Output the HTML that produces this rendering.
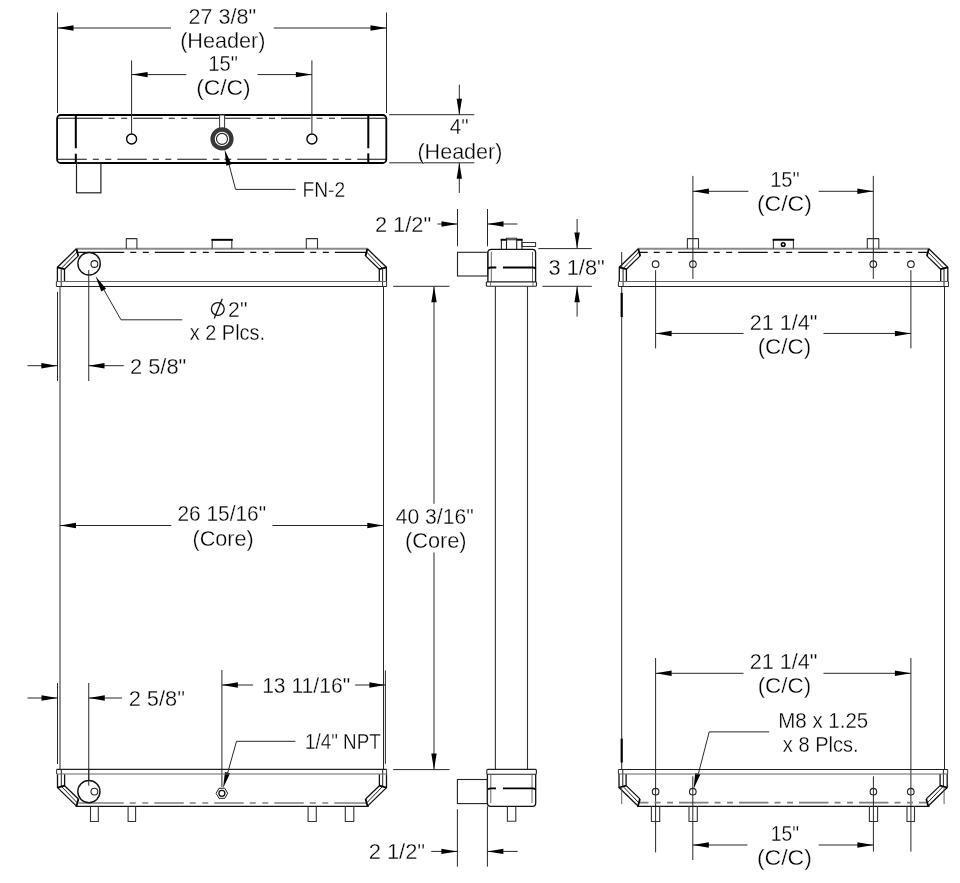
<!DOCTYPE html>
<html><head><meta charset="utf-8"><style>
html,body{margin:0;padding:0;background:#fff;width:960px;height:883px;overflow:hidden}
svg{display:block}
text{font-family:"Liberation Sans",sans-serif;will-change:transform}
</style></head><body>
<svg width="960" height="883" viewBox="0 0 960 883">
<rect x="57.1" y="115" width="329.2" height="48" rx="3.5" fill="none" stroke="#000" stroke-width="1.8"/>
<path d="M75.8 115L75.8 148.3" stroke="#000" stroke-width="2"/>
<path d="M75.8 153.7L75.8 163" stroke="#000" stroke-width="2"/>
<path d="M368.3 115L368.3 148.3" stroke="#000" stroke-width="2"/>
<path d="M368.3 153.3L368.3 163" stroke="#000" stroke-width="2"/>
<path d="M57.7 118.25H102.7M108.7 118.25H114.7M121.2 118.25H127.2M133.2 118.25H162.7M168.7 118.25H174.7M181.2 118.25H187.2M193.2 118.25H219.5M224.5 118.25H250.5M256.5 118.25H262.5M269 118.25H275M281 118.25H310.5M316.5 118.25H322.5M329 118.25H335M341 118.25H386" stroke="#111" stroke-width="1.2" fill="none"/>
<path d="M57.7 159.25H86.8M92.8 159.25H98.8M105.3 159.25H111.3M117.3 159.25H146.8M152.8 159.25H158.8M165.3 159.25H171.3M177.3 159.25H206.8M212.8 159.25H219.5M224.5 159.25H231.25M237.25 159.25H266.75M272.75 159.25H278.75M285.25 159.25H291.25M297.25 159.25H326.75M332.75 159.25H338.75M345.25 159.25H351.25M357.25 159.25H386" stroke="#111" stroke-width="1.2" fill="none"/>
<circle cx="131.6" cy="139" r="5" fill="#fff" stroke="#000" stroke-width="1.4"/>
<circle cx="311.9" cy="139" r="5" fill="#fff" stroke="#000" stroke-width="1.4"/>
<rect x="219.6" y="115" width="5" height="13.5" rx="0" fill="#fff" stroke="#333" stroke-width="1"/>
<circle cx="222" cy="138.9" r="9.4" fill="#fff" stroke="#383838" stroke-width="4.4"/>
<circle cx="222" cy="138.9" r="5.5" fill="none" stroke="#222" stroke-width="1.1"/>
<rect x="76.5" y="163" width="24.4" height="29.8" rx="0" fill="none" stroke="#222" stroke-width="1.2"/>
<path d="M226.5 155L235.6 189.4" stroke="#282828" stroke-width="1.0"/>
<path d="M235.6 189.4L295.6 189.4" stroke="#282828" stroke-width="1.0"/>
<path d="M224.6 149.6L231.46 164.3L226.26 165.74Z" fill="#000"/>
<text x="302.45" y="196.9" font-size="21.2" textLength="42.7" lengthAdjust="spacingAndGlyphs" fill="#000" stroke="#fff" stroke-width="0.3">FN-2</text>
<path d="M57.5 12.5L57.5 113" stroke="#282828" stroke-width="1.0"/>
<path d="M386.5 12.5L386.5 113" stroke="#282828" stroke-width="1.0"/>
<path d="M57.5 28L171 28" stroke="#282828" stroke-width="1.0"/>
<path d="M57.5 28L73.5 25.3L73.5 30.7Z" fill="#000"/>
<path d="M386.5 28L273.75 28" stroke="#282828" stroke-width="1.0"/>
<path d="M386.5 28L370.5 30.7L370.5 25.3Z" fill="#000"/>
<text x="188.45" y="24" font-size="21.2" textLength="67.7" lengthAdjust="spacingAndGlyphs" fill="#000" stroke="#fff" stroke-width="0.3">27 3/8&quot;</text>
<text x="180.15" y="47.5" font-size="21.2" textLength="85.4" lengthAdjust="spacingAndGlyphs" fill="#000" stroke="#fff" stroke-width="0.3">(Header)</text>
<path d="M131.6 60.4L131.6 134" stroke="#282828" stroke-width="1.0"/>
<path d="M311.9 60.4L311.9 134" stroke="#282828" stroke-width="1.0"/>
<path d="M131.6 74.6L186.25 74.6" stroke="#282828" stroke-width="1.0"/>
<path d="M131.6 74.6L147.6 71.9L147.6 77.3Z" fill="#000"/>
<path d="M311.9 74.6L257.5 74.6" stroke="#282828" stroke-width="1.0"/>
<path d="M311.9 74.6L295.9 77.3L295.9 71.9Z" fill="#000"/>
<text x="208.25" y="70.8" font-size="21.2" textLength="29.6" lengthAdjust="spacingAndGlyphs" fill="#000" stroke="#fff" stroke-width="0.3">15&quot;</text>
<text x="196.15" y="94.5" font-size="21.2" textLength="54.6" lengthAdjust="spacingAndGlyphs" fill="#000" stroke="#fff" stroke-width="0.3">(C/C)</text>
<path d="M389.2 114.7L474.3 114.7" stroke="#282828" stroke-width="1.0"/>
<path d="M389.2 162.8L474.3 162.8" stroke="#282828" stroke-width="1.0"/>
<path d="M459.3 114.7L459.3 84.6" stroke="#282828" stroke-width="1.0"/>
<path d="M459.3 114.7L456.6 98.7L462 98.7Z" fill="#000"/>
<path d="M459.3 162.8L459.3 192.9" stroke="#282828" stroke-width="1.0"/>
<path d="M459.3 162.8L462 178.8L456.6 178.8Z" fill="#000"/>
<text x="449.65" y="134.2" font-size="21.2" textLength="19" lengthAdjust="spacingAndGlyphs" fill="#000" stroke="#fff" stroke-width="0.3">4&quot;</text>
<text x="417.45" y="158.8" font-size="21.2" textLength="85" lengthAdjust="spacingAndGlyphs" fill="#000" stroke="#fff" stroke-width="0.3">(Header)</text>
<path d="M76.4 248.8L367.4 248.8" stroke="#8a8a8a" stroke-width="2"/>
<path d="M76.1 252.4H124.3M130.3 252.4H136.3M142.8 252.4H148.8M154.8 252.4H184.3M190.3 252.4H196.3M202.8 252.4H208.8M214.8 252.4H244.3M250.3 252.4H256.3M262.8 252.4H268.8M274.8 252.4H304.3M310.3 252.4H316.3M322.8 252.4H328.8M334.8 252.4H366.9" stroke="#111" stroke-width="1.2" fill="none"/>
<path d="M76.4 248.8L57.4 267.3L57.4 281.6" fill="none" stroke="#111" stroke-width="1.3" stroke-linejoin="round"/>
<path d="M76.9 252.3L61.2 268.6L61.2 286.3" fill="none" stroke="#222" stroke-width="1.0" stroke-linejoin="round"/>
<path d="M78.3 255.9L64.5 269.2L64.5 281.6" fill="none" stroke="#111" stroke-width="1.3" stroke-linejoin="round"/>
<path d="M76.4 248.8L78.3 255.9" stroke="#000" stroke-width="1.8"/>
<path d="M64.5 269.2L57.4 267.3" stroke="#000" stroke-width="1.8"/>
<path d="M367.4 248.8L386.4 267.3L386.4 281.6" fill="none" stroke="#111" stroke-width="1.3" stroke-linejoin="round"/>
<path d="M366.9 252.3L382.6 268.6L382.6 286.3" fill="none" stroke="#222" stroke-width="1.0" stroke-linejoin="round"/>
<path d="M365.5 255.9L379.3 269.2L379.3 281.6" fill="none" stroke="#111" stroke-width="1.3" stroke-linejoin="round"/>
<path d="M367.4 248.8L365.5 255.9" stroke="#000" stroke-width="1.8"/>
<path d="M379.3 269.2L386.4 267.3" stroke="#000" stroke-width="1.8"/>
<path d="M56.4 281.5L386.6 281.5" stroke="#666" stroke-width="1.1"/>
<path d="M56.4 286.5L386.6 286.5" stroke="#222" stroke-width="1.1"/>
<path d="M56.4 281.5L56.4 286.5" stroke="#333" stroke-width="1"/>
<path d="M386.6 281.5L386.6 286.5" stroke="#333" stroke-width="1"/>
<path d="M126.3 248.8L126.3 238.6L136.9 238.6L136.9 248.8" fill="none" stroke="#333" stroke-width="1.1" stroke-linejoin="round"/>
<path d="M212.2 248.8L212.2 239.8L231.8 239.8L231.8 248.8" fill="none" stroke="#333" stroke-width="1.1" stroke-linejoin="round"/>
<path d="M211.4 239.8L232.8 239.8" stroke="#000" stroke-width="1.9"/>
<path d="M306.3 248.8L306.3 238.6L317.5 238.6L317.5 248.8" fill="none" stroke="#333" stroke-width="1.1" stroke-linejoin="round"/>
<circle cx="89.1" cy="263.75" r="11.2" fill="#fff" stroke="#111" stroke-width="1.4"/>
<circle cx="94.4" cy="264" r="3.4" fill="none" stroke="#222" stroke-width="1.1"/>
<path d="M88.75 270L88.75 381" stroke="#282828" stroke-width="1.0"/>
<path d="M60 286.3L60 769.5" stroke="#282828" stroke-width="1"/>
<path d="M383.5 286.3L383.5 769.5" stroke="#282828" stroke-width="1"/>
<path d="M57.5 291.9L57.5 381" stroke="#282828" stroke-width="1.0"/>
<path d="M100 283L121 319.8" stroke="#282828" stroke-width="1.0"/>
<path d="M121 319.8L182.3 319.8" stroke="#282828" stroke-width="1.0"/>
<path d="M95.6 276.3L106 288.76L101.34 291.48Z" fill="#000"/>
<circle cx="217.8" cy="309" r="6.4" fill="none" stroke="#111" stroke-width="1.3"/>
<path d="M222.3 298.8L214.2 318.4" stroke="#111" stroke-width="1.3"/>
<text x="228.05" y="316.5" font-size="21.2" textLength="19.4" lengthAdjust="spacingAndGlyphs" fill="#000" stroke="#fff" stroke-width="0.3">2&quot;</text>
<text x="189.65" y="340" font-size="21.2" textLength="75.5" lengthAdjust="spacingAndGlyphs" fill="#000" stroke="#fff" stroke-width="0.3">x 2 Plcs.</text>
<path d="M57.3 365.7L27.5 365.7" stroke="#282828" stroke-width="1.0"/>
<path d="M57.3 365.7L41.3 368.4L41.3 363Z" fill="#000"/>
<path d="M88.5 365.7L123.8 365.7" stroke="#282828" stroke-width="1.0"/>
<path d="M88.5 365.7L104.5 363L104.5 368.4Z" fill="#000"/>
<text x="129.95" y="373.7" font-size="21.2" textLength="56.4" lengthAdjust="spacingAndGlyphs" fill="#000" stroke="#fff" stroke-width="0.3">2 5/8&quot;</text>
<path d="M60 525.5L171.3 525.5" stroke="#282828" stroke-width="1.0"/>
<path d="M60 525.5L76 522.8L76 528.2Z" fill="#000"/>
<path d="M383.3 525.5L272.5 525.5" stroke="#282828" stroke-width="1.0"/>
<path d="M383.3 525.5L367.3 528.2L367.3 522.8Z" fill="#000"/>
<text x="177.45" y="521.3" font-size="21.2" textLength="88.7" lengthAdjust="spacingAndGlyphs" fill="#000" stroke="#fff" stroke-width="0.3">26 15/16&quot;</text>
<text x="192.45" y="545.8" font-size="21.2" textLength="61.2" lengthAdjust="spacingAndGlyphs" fill="#000" stroke="#fff" stroke-width="0.3">(Core)</text>
<path d="M393.2 286.3L449.4 286.3" stroke="#282828" stroke-width="1.0"/>
<path d="M393.2 769.6L449.6 769.6" stroke="#282828" stroke-width="1.0"/>
<path d="M434 286.3L434 503.8" stroke="#282828" stroke-width="1.0"/>
<path d="M434 286.3L436.7 302.3L431.3 302.3Z" fill="#000"/>
<path d="M434 769.6L434 552.5" stroke="#282828" stroke-width="1.0"/>
<path d="M434 769.6L431.3 753.6L436.7 753.6Z" fill="#000"/>
<text x="395.65" y="523.8" font-size="21.2" textLength="78" lengthAdjust="spacingAndGlyphs" fill="#000" stroke="#fff" stroke-width="0.3">40 3/16&quot;</text>
<text x="404.95" y="547.5" font-size="21.2" textLength="61.7" lengthAdjust="spacingAndGlyphs" fill="#000" stroke="#fff" stroke-width="0.3">(Core)</text>
<path d="M57.5 683L57.5 764" stroke="#282828" stroke-width="1.0"/>
<path d="M88.75 683L88.75 785.6" stroke="#282828" stroke-width="1.0"/>
<path d="M57.5 698L27.5 698" stroke="#282828" stroke-width="1.0"/>
<path d="M57.5 698L41.5 700.7L41.5 695.3Z" fill="#000"/>
<path d="M88.75 698L122 698" stroke="#282828" stroke-width="1.0"/>
<path d="M88.75 698L104.75 695.3L104.75 700.7Z" fill="#000"/>
<text x="128.65" y="705.8" font-size="21.2" textLength="56.3" lengthAdjust="spacingAndGlyphs" fill="#000" stroke="#fff" stroke-width="0.3">2 5/8&quot;</text>
<path d="M221.9 670L221.9 787" stroke="#282828" stroke-width="1.0"/>
<path d="M385.4 670.4L385.4 763.8" stroke="#282828" stroke-width="1.0"/>
<path d="M221.9 685L253.1 685" stroke="#282828" stroke-width="1.0"/>
<path d="M221.9 685L237.9 682.3L237.9 687.7Z" fill="#000"/>
<path d="M385.4 685L355.2 685" stroke="#282828" stroke-width="1.0"/>
<path d="M385.4 685L369.4 687.7L369.4 682.3Z" fill="#000"/>
<text x="262.15" y="692.9" font-size="21.2" textLength="88" lengthAdjust="spacingAndGlyphs" fill="#000" stroke="#fff" stroke-width="0.3">13 11/16&quot;</text>
<path d="M236.5 741.3L295.4 741.3" stroke="#282828" stroke-width="1.0"/>
<path d="M236.5 741.3L226.8 776" stroke="#282828" stroke-width="1.0"/>
<path d="M223.1 788L224.92 771.88L230.11 773.37Z" fill="#000"/>
<text x="304.95" y="749.2" font-size="21.2" textLength="75.8" lengthAdjust="spacingAndGlyphs" fill="#000" stroke="#fff" stroke-width="0.3">1/4&quot; NPT</text>
<path d="M75.6 806.45L368.8 806.45" stroke="#111" stroke-width="1.2"/>
<path d="M78.4 803H123.75M129.75 803H135.75M142.25 803H148.25M154.25 803H183.75M189.75 803H195.75M202.25 803H208.25M214.25 803H243.75M249.75 803H255.75M262.25 803H268.25M274.25 803H303.75M309.75 803H315.75M322.25 803H328.25M334.25 803H366" stroke="#808080" stroke-width="1.7" fill="none"/>
<path d="M76.5 806.1L57.5 787.6L57.5 774.25" fill="none" stroke="#111" stroke-width="1.3" stroke-linejoin="round"/>
<path d="M77 802.6L61.3 786.3L61.3 769.5" fill="none" stroke="#222" stroke-width="1.0" stroke-linejoin="round"/>
<path d="M78.4 799L64.6 785.7L64.6 774.25" fill="none" stroke="#111" stroke-width="1.3" stroke-linejoin="round"/>
<path d="M76.5 806.1L78.4 799" stroke="#000" stroke-width="1.8"/>
<path d="M64.6 785.7L57.5 787.6" stroke="#000" stroke-width="1.8"/>
<path d="M367.5 806.1L386.5 787.6L386.5 774.25" fill="none" stroke="#111" stroke-width="1.3" stroke-linejoin="round"/>
<path d="M367 802.6L382.7 786.3L382.7 769.5" fill="none" stroke="#222" stroke-width="1.0" stroke-linejoin="round"/>
<path d="M365.6 799L379.4 785.7L379.4 774.25" fill="none" stroke="#111" stroke-width="1.3" stroke-linejoin="round"/>
<path d="M367.5 806.1L365.6 799" stroke="#000" stroke-width="1.8"/>
<path d="M379.4 785.7L386.5 787.6" stroke="#000" stroke-width="1.8"/>
<path d="M56.6 774.05L386.6 774.05" stroke="#666" stroke-width="1.1"/>
<path d="M56.6 769.4L386.6 769.4" stroke="#222" stroke-width="1.1"/>
<path d="M56.6 769.4L56.6 774.05" stroke="#333" stroke-width="1"/>
<path d="M386.6 769.4L386.6 774.05" stroke="#333" stroke-width="1"/>
<circle cx="88.9" cy="791.6" r="11.1" fill="#fff" stroke="#111" stroke-width="1.4"/>
<circle cx="94.4" cy="791.6" r="3.4" fill="none" stroke="#222" stroke-width="1.1"/>
<path d="M88.75 770L88.75 785.6" stroke="#282828" stroke-width="1.0"/>
<path d="M227.7 793.3L224.8 798.32L219 798.32L216.1 793.3L219 788.28L224.8 788.28Z" fill="none" stroke="#222" stroke-width="1" stroke-linejoin="round"/>
<circle cx="221.9" cy="793.3" r="3" fill="none" stroke="#111" stroke-width="1.3"/>
<path d="M90.5 806.3L90.5 821.5L98.3 821.5L98.3 806.3" fill="none" stroke="#333" stroke-width="1.1" stroke-linejoin="round"/>
<path d="M128.1 806.3L128.1 821.5L135.6 821.5L135.6 806.3" fill="none" stroke="#333" stroke-width="1.1" stroke-linejoin="round"/>
<path d="M308.1 806.3L308.1 821.5L316.3 821.5L316.3 806.3" fill="none" stroke="#333" stroke-width="1.1" stroke-linejoin="round"/>
<path d="M345.3 806.3L345.3 821.5L353.8 821.5L353.8 806.3" fill="none" stroke="#333" stroke-width="1.1" stroke-linejoin="round"/>
<path d="M487.9 281.9 V252.6 Q487.9 249.4 491.1 249.4 H532.4 Q535.6 249.4 535.6 252.6 V281.9" fill="none" stroke="#111" stroke-width="1.3"/>
<path d="M491.3 252L491.3 281.9" stroke="#555" stroke-width="0.9"/>
<path d="M532.5 252L532.5 281.9" stroke="#555" stroke-width="0.9"/>
<path d="M488.2 269 Q488.6 267.5 490.5 267.5 H496.3 M503 267.5 H533 Q535.2 267.5 535.4 269" fill="none" stroke="#000" stroke-width="1.8"/>
<rect x="486.3" y="281.9" width="50.2" height="4.4" rx="1" fill="none" stroke="#222" stroke-width="1.1"/>
<path d="M490.6 281.9L490.6 286.3" stroke="#555" stroke-width="0.8"/>
<path d="M533 281.9L533 286.3" stroke="#555" stroke-width="0.8"/>
<path d="M501.4 249.4L501.4 239.7L522 239.7L522 249.4" fill="none" stroke="#222" stroke-width="1.1" stroke-linejoin="round"/>
<path d="M500.6 239.7L506.5 239.7" stroke="#000" stroke-width="1.9"/>
<path d="M516.7 239.7L522.6 239.7" stroke="#000" stroke-width="1.9"/>
<path d="M506.5 249.4L506.5 238.2L516.7 238.2L516.7 249.4" fill="none" stroke="#222" stroke-width="1.1" stroke-linejoin="round"/>
<rect x="521.9" y="242.5" width="13.7" height="4" rx="0" fill="none" stroke="#333" stroke-width="1"/>
<rect x="457.5" y="252.3" width="30.2" height="23.7" rx="0" fill="none" stroke="#222" stroke-width="1.1"/>
<path d="M495.4 286.3L495.4 769.4" stroke="#333" stroke-width="1.1"/>
<path d="M527.5 286.3L527.5 769.4" stroke="#333" stroke-width="1.1"/>
<rect x="486.8" y="769.4" width="49.6" height="4.8" rx="1" fill="none" stroke="#222" stroke-width="1.1"/>
<path d="M487.4 774.2 V803 Q487.4 806.3 490.6 806.3 H532.5 Q535.7 806.3 535.7 803 V774.2" fill="none" stroke="#111" stroke-width="1.3"/>
<path d="M490.8 774.2L490.8 803" stroke="#555" stroke-width="0.9"/>
<path d="M532 774.2L532 803" stroke="#555" stroke-width="0.9"/>
<path d="M488.2 789.8 Q488.6 788.3 490.5 788.3 H496 M503 788.3 H533 Q535.2 788.3 535.4 789.8" fill="none" stroke="#000" stroke-width="1.8"/>
<rect x="457.4" y="779.5" width="30" height="24.1" rx="0" fill="none" stroke="#222" stroke-width="1.1"/>
<path d="M507.4 806.3L507.4 821.3L515.8 821.3L515.8 806.3" fill="none" stroke="#333" stroke-width="1.1" stroke-linejoin="round"/>
<path d="M457.5 209L457.5 246.3" stroke="#282828" stroke-width="1.0"/>
<path d="M487.5 209L487.5 246.3" stroke="#282828" stroke-width="1.0"/>
<path d="M457.5 224L437.5 224" stroke="#282828" stroke-width="1.0"/>
<path d="M457.5 224L441.5 226.7L441.5 221.3Z" fill="#000"/>
<path d="M487.5 224L517.5 224" stroke="#282828" stroke-width="1.0"/>
<path d="M487.5 224L503.5 221.3L503.5 226.7Z" fill="#000"/>
<text x="374.95" y="232" font-size="21.2" textLength="56.2" lengthAdjust="spacingAndGlyphs" fill="#000" stroke="#fff" stroke-width="0.3">2 1/2&quot;</text>
<path d="M457.4 809.2L457.4 866.6" stroke="#282828" stroke-width="1.0"/>
<path d="M487.4 806.3L487.4 866.6" stroke="#282828" stroke-width="1.0"/>
<path d="M457.4 851.4L431.3 851.4" stroke="#282828" stroke-width="1.0"/>
<path d="M457.4 851.4L441.4 854.1L441.4 848.7Z" fill="#000"/>
<path d="M487.4 851.4L517.7 851.4" stroke="#282828" stroke-width="1.0"/>
<path d="M487.4 851.4L503.4 848.7L503.4 854.1Z" fill="#000"/>
<text x="368.65" y="858.8" font-size="21.2" textLength="56.5" lengthAdjust="spacingAndGlyphs" fill="#000" stroke="#fff" stroke-width="0.3">2 1/2&quot;</text>
<path d="M538.3 248.6L591.8 248.6" stroke="#282828" stroke-width="1.0"/>
<path d="M542.4 286.3L591.8 286.3" stroke="#282828" stroke-width="1.0"/>
<path d="M577.1 248.6L577.1 219" stroke="#282828" stroke-width="1.0"/>
<path d="M577.1 248.6L574.4 232.6L579.8 232.6Z" fill="#000"/>
<path d="M577.1 286.3L577.1 316.6" stroke="#282828" stroke-width="1.0"/>
<path d="M577.1 286.3L579.8 302.3L574.4 302.3Z" fill="#000"/>
<text x="548.55" y="275.4" font-size="21.2" textLength="56.2" lengthAdjust="spacingAndGlyphs" fill="#000" stroke="#fff" stroke-width="0.3">3 1/8&quot;</text>
<path d="M637.9 248.8L928.8 248.8" stroke="#8a8a8a" stroke-width="2"/>
<path d="M637.7 252.4H647.7M653.7 252.4H659.7M666.2 252.4H672.2M678.2 252.4H707.7M713.7 252.4H719.7M726.2 252.4H732.2M738.2 252.4H767.7M773.7 252.4H779.7M786.2 252.4H792.2M798.2 252.4H827.7M833.7 252.4H839.7M846.2 252.4H852.2M858.2 252.4H887.7M893.7 252.4H899.7M906.2 252.4H912.2M918.2 252.4H927.3" stroke="#111" stroke-width="1.2" fill="none"/>
<path d="M638.3 248.8L619.3 267.3L619.3 281.6" fill="none" stroke="#111" stroke-width="1.3" stroke-linejoin="round"/>
<path d="M638.8 252.3L623.1 268.6L623.1 286.4" fill="none" stroke="#222" stroke-width="1.0" stroke-linejoin="round"/>
<path d="M640.2 255.9L626.4 269.2L626.4 281.6" fill="none" stroke="#111" stroke-width="1.3" stroke-linejoin="round"/>
<path d="M638.3 248.8L640.2 255.9" stroke="#000" stroke-width="1.8"/>
<path d="M626.4 269.2L619.3 267.3" stroke="#000" stroke-width="1.8"/>
<path d="M928.8 248.8L947.8 267.3L947.8 281.6" fill="none" stroke="#111" stroke-width="1.3" stroke-linejoin="round"/>
<path d="M928.3 252.3L944 268.6L944 286.4" fill="none" stroke="#222" stroke-width="1.0" stroke-linejoin="round"/>
<path d="M926.9 255.9L940.7 269.2L940.7 281.6" fill="none" stroke="#111" stroke-width="1.3" stroke-linejoin="round"/>
<path d="M928.8 248.8L926.9 255.9" stroke="#000" stroke-width="1.8"/>
<path d="M940.7 269.2L947.8 267.3" stroke="#000" stroke-width="1.8"/>
<path d="M618.4 281.5L948.5 281.5" stroke="#666" stroke-width="1.1"/>
<path d="M618.4 286.5L948.5 286.5" stroke="#222" stroke-width="1.1"/>
<path d="M618.4 281.5L618.4 286.5" stroke="#333" stroke-width="1"/>
<path d="M948.5 281.5L948.5 286.5" stroke="#333" stroke-width="1"/>
<circle cx="655.6" cy="264.2" r="3.3" fill="none" stroke="#222" stroke-width="1.1"/>
<circle cx="692.9" cy="264.2" r="3.3" fill="none" stroke="#222" stroke-width="1.1"/>
<circle cx="873.3" cy="264.2" r="3.3" fill="none" stroke="#222" stroke-width="1.1"/>
<circle cx="910.9" cy="264.2" r="3.3" fill="none" stroke="#222" stroke-width="1.1"/>
<path d="M687.4 248.8L687.4 238.6L698.5 238.6L698.5 248.8" fill="none" stroke="#333" stroke-width="1.1" stroke-linejoin="round"/>
<path d="M867.3 248.8L867.3 238.6L878.8 238.6L878.8 248.8" fill="none" stroke="#333" stroke-width="1.1" stroke-linejoin="round"/>
<path d="M773.4 248.8L773.4 239.7L793.4 239.7L793.4 248.8" fill="none" stroke="#333" stroke-width="1.1" stroke-linejoin="round"/>
<path d="M772.6 239.7L794.2 239.7" stroke="#000" stroke-width="1.9"/>
<circle cx="783.2" cy="244.5" r="1.8" fill="none" stroke="#000" stroke-width="1.6"/>
<path d="M621.7 252L621.7 267" stroke="#282828" stroke-width="1.0"/>
<path d="M621.7 286.4L621.7 769.5" stroke="#282828" stroke-width="1.0"/>
<path d="M944.5 286.4L944.5 769.5" stroke="#282828" stroke-width="1.0"/>
<path d="M621.7 292.9L621.7 317" stroke="#000" stroke-width="2.2"/>
<path d="M621.7 738.7L621.7 762.5" stroke="#000" stroke-width="2.2"/>
<path d="M692.9 175.9L692.9 278.9" stroke="#282828" stroke-width="1.0"/>
<path d="M873.3 175.9L873.3 278.9" stroke="#282828" stroke-width="1.0"/>
<path d="M692.9 191.3L748.4 191.3" stroke="#282828" stroke-width="1.0"/>
<path d="M692.9 191.3L708.9 188.6L708.9 194Z" fill="#000"/>
<path d="M873.3 191.3L818.6 191.3" stroke="#282828" stroke-width="1.0"/>
<path d="M873.3 191.3L857.3 194L857.3 188.6Z" fill="#000"/>
<text x="770.15" y="186.7" font-size="21.2" textLength="29.5" lengthAdjust="spacingAndGlyphs" fill="#000" stroke="#fff" stroke-width="0.3">15&quot;</text>
<text x="756.95" y="210.5" font-size="21.2" textLength="54.9" lengthAdjust="spacingAndGlyphs" fill="#000" stroke="#fff" stroke-width="0.3">(C/C)</text>
<path d="M655.6 270.2L655.6 348.4" stroke="#282828" stroke-width="1.0"/>
<path d="M910.9 270.2L910.9 348.4" stroke="#282828" stroke-width="1.0"/>
<path d="M655.6 333.45L743.5 333.45" stroke="#282828" stroke-width="1.0"/>
<path d="M655.6 333.45L671.6 330.75L671.6 336.15Z" fill="#000"/>
<path d="M910.9 333.45L823.5 333.45" stroke="#282828" stroke-width="1.0"/>
<path d="M910.9 333.45L894.9 336.15L894.9 330.75Z" fill="#000"/>
<text x="749.65" y="329.6" font-size="21.2" textLength="67.8" lengthAdjust="spacingAndGlyphs" fill="#000" stroke="#fff" stroke-width="0.3">21 1/4&quot;</text>
<text x="757.65" y="353.8" font-size="21.2" textLength="53.5" lengthAdjust="spacingAndGlyphs" fill="#000" stroke="#fff" stroke-width="0.3">(C/C)</text>
<path d="M655.6 658L655.6 852.4" stroke="#282828" stroke-width="1.0"/>
<path d="M910.9 658L910.9 851.6" stroke="#282828" stroke-width="1.0"/>
<path d="M655.6 673.3L743.5 673.3" stroke="#282828" stroke-width="1.0"/>
<path d="M655.6 673.3L671.6 670.6L671.6 676Z" fill="#000"/>
<path d="M910.9 673.3L823.5 673.3" stroke="#282828" stroke-width="1.0"/>
<path d="M910.9 673.3L894.9 676L894.9 670.6Z" fill="#000"/>
<text x="749.65" y="669.2" font-size="21.2" textLength="67.8" lengthAdjust="spacingAndGlyphs" fill="#000" stroke="#fff" stroke-width="0.3">21 1/4&quot;</text>
<text x="757.65" y="693.4" font-size="21.2" textLength="53.5" lengthAdjust="spacingAndGlyphs" fill="#000" stroke="#fff" stroke-width="0.3">(C/C)</text>
<path d="M709.2 731.9L769.2 731.9" stroke="#282828" stroke-width="1.0"/>
<path d="M709.2 731.9L697.8 776" stroke="#282828" stroke-width="1.0"/>
<path d="M693.6 789.1L695.21 772.95L700.41 774.37Z" fill="#000"/>
<text x="778.25" y="728.1" font-size="21.2" textLength="90" lengthAdjust="spacingAndGlyphs" fill="#000" stroke="#fff" stroke-width="0.3">M8 x 1.25</text>
<text x="782.85" y="751.7" font-size="21.2" textLength="75.8" lengthAdjust="spacingAndGlyphs" fill="#000" stroke="#fff" stroke-width="0.3">x 8 Plcs.</text>
<path d="M637.1 806.3L929.6 806.3" stroke="#111" stroke-width="1.2"/>
<path d="M639.3 802.7H648.5M654.5 802.7H660.5M667 802.7H673M679 802.7H708.5M714.5 802.7H720.5M727 802.7H733M739 802.7H768.5M774.5 802.7H780.5M787 802.7H793M799 802.7H828.5M834.5 802.7H840.5M847 802.7H853M859 802.7H888.5M894.5 802.7H900.5M907 802.7H913M919 802.7H927.3" stroke="#808080" stroke-width="1.7" fill="none"/>
<path d="M638 806L619 787.5L619 774.1" fill="none" stroke="#111" stroke-width="1.3" stroke-linejoin="round"/>
<path d="M638.5 802.5L622.8 786.2L622.8 769.6" fill="none" stroke="#222" stroke-width="1.0" stroke-linejoin="round"/>
<path d="M639.9 798.9L626.1 785.6L626.1 774.1" fill="none" stroke="#111" stroke-width="1.3" stroke-linejoin="round"/>
<path d="M638 806L639.9 798.9" stroke="#000" stroke-width="1.8"/>
<path d="M626.1 785.6L619 787.5" stroke="#000" stroke-width="1.8"/>
<path d="M928.2 806L947.2 787.5L947.2 774.1" fill="none" stroke="#111" stroke-width="1.3" stroke-linejoin="round"/>
<path d="M927.7 802.5L943.4 786.2L943.4 769.6" fill="none" stroke="#222" stroke-width="1.0" stroke-linejoin="round"/>
<path d="M926.3 798.9L940.1 785.6L940.1 774.1" fill="none" stroke="#111" stroke-width="1.3" stroke-linejoin="round"/>
<path d="M928.2 806L926.3 798.9" stroke="#000" stroke-width="1.8"/>
<path d="M940.1 785.6L947.2 787.5" stroke="#000" stroke-width="1.8"/>
<path d="M618.4 774.05L947.7 774.05" stroke="#666" stroke-width="1.1"/>
<path d="M618.4 769.5L947.7 769.5" stroke="#222" stroke-width="1.1"/>
<path d="M618.4 769.5L618.4 774.05" stroke="#333" stroke-width="1"/>
<path d="M947.7 769.5L947.7 774.05" stroke="#333" stroke-width="1"/>
<path d="M621.7 787L621.7 804.2" stroke="#555" stroke-width="0.9"/>
<path d="M944.1 787L944.1 804.2" stroke="#555" stroke-width="0.9"/>
<circle cx="655.6" cy="791.7" r="3.3" fill="none" stroke="#222" stroke-width="1.1"/>
<circle cx="692.8" cy="791.7" r="3.3" fill="none" stroke="#222" stroke-width="1.1"/>
<circle cx="873.4" cy="791.7" r="3.3" fill="none" stroke="#222" stroke-width="1.1"/>
<circle cx="910.8" cy="791.7" r="3.3" fill="none" stroke="#222" stroke-width="1.1"/>
<path d="M651.4 806L651.4 821.5L659.7 821.5L659.7 806" fill="none" stroke="#333" stroke-width="1.1" stroke-linejoin="round"/>
<path d="M689 806L689 821.5L697.3 821.5L697.3 806" fill="none" stroke="#333" stroke-width="1.1" stroke-linejoin="round"/>
<path d="M869.4 806L869.4 821.5L877.6 821.5L877.6 806" fill="none" stroke="#333" stroke-width="1.1" stroke-linejoin="round"/>
<path d="M907 806L907 821.5L914.5 821.5L914.5 806" fill="none" stroke="#333" stroke-width="1.1" stroke-linejoin="round"/>
<path d="M692.8 776.3L692.8 860" stroke="#282828" stroke-width="1.0"/>
<path d="M873.4 776.3L873.4 851.6" stroke="#282828" stroke-width="1.0"/>
<path d="M692.8 845L747.4 845" stroke="#282828" stroke-width="1.0"/>
<path d="M692.8 845L708.8 842.3L708.8 847.7Z" fill="#000"/>
<path d="M873.4 845L818.6 845" stroke="#282828" stroke-width="1.0"/>
<path d="M873.4 845L857.4 847.7L857.4 842.3Z" fill="#000"/>
<text x="770.75" y="840.7" font-size="21.2" textLength="28.3" lengthAdjust="spacingAndGlyphs" fill="#000" stroke="#fff" stroke-width="0.3">15&quot;</text>
<text x="756.95" y="864.5" font-size="21.2" textLength="54.9" lengthAdjust="spacingAndGlyphs" fill="#000" stroke="#fff" stroke-width="0.3">(C/C)</text>
</svg></body></html>
